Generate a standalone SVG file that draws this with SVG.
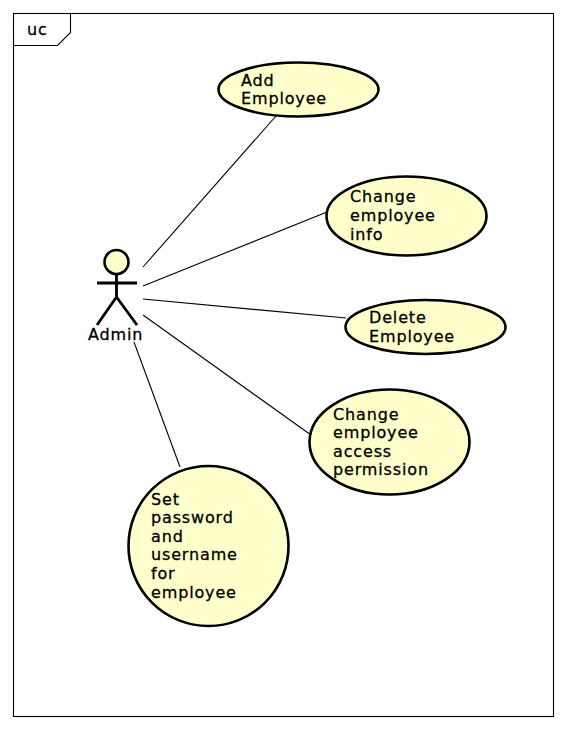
<svg xmlns="http://www.w3.org/2000/svg" width="566" height="729" viewBox="0 0 566 729">
<style>
text{font-family:"DejaVu Sans",sans-serif;font-size:16px;letter-spacing:.85px;fill:#000;stroke:#000;stroke-width:.3px}
.uc{fill:#ffffcc;stroke:#000;stroke-width:2.6}
.c line{stroke:#000;stroke-width:1.1}
</style>
<rect width="566" height="729" fill="#fff"/>
<g id="frame">
<rect x="13.500" y="13.500" width="540" height="703" fill="none" stroke="#000" stroke-width="1.100"/>
<path d="M13.500 45.500H57.500L70.500 32.500V13.500" fill="#fff" stroke="#000" stroke-width="1.100"/>
<text x="27" y="35">uc</text>
</g>
<g class="c" id="connectors">
<line x1="143" y1="267" x2="276" y2="116"/>
<line x1="143" y1="286" x2="327" y2="212"/>
<line x1="143" y1="299" x2="346" y2="318"/>
<line x1="143" y1="315" x2="311" y2="435"/>
<line x1="134" y1="342" x2="180" y2="467"/>
</g>
<g id="admin">
<circle cx="116.500" cy="262" r="12" class="uc"/>
<path d="M116.500 274V297M97 283H137M116.500 297L97 325M116.500 297L137 325" fill="none" stroke="#000" stroke-width="2.800"/>
<text x="88" y="340">Admin</text>
</g>
<g id="uc1">
<ellipse cx="298.500" cy="89.500" rx="80" ry="27" class="uc"/>
<text x="241" y="86">Add</text>
<text x="241" y="104">Employee</text>
</g>
<g id="uc2">
<ellipse cx="406.500" cy="216" rx="80" ry="39.500" class="uc"/>
<text x="350" y="202">Change</text>
<text x="350" y="221">employee</text>
<text x="350" y="240">info</text>
</g>
<g id="uc3">
<ellipse cx="425.500" cy="327" rx="80" ry="27" class="uc"/>
<text x="369" y="323">Delete</text>
<text x="369" y="342">Employee</text>
</g>
<g id="uc4">
<ellipse cx="389.500" cy="442" rx="80" ry="52.500" class="uc"/>
<text x="333" y="420">Change</text>
<text x="333" y="438">employee</text>
<text x="333" y="457">access</text>
<text x="333" y="475">permission</text>
</g>
<g id="uc5">
<circle cx="208.500" cy="546" r="80" class="uc"/>
<text x="151" y="505">Set</text>
<text x="151" y="523">password</text>
<text x="151" y="542">and</text>
<text x="151" y="560">username</text>
<text x="151" y="579">for</text>
<text x="151" y="598">employee</text>
</g>
</svg>
